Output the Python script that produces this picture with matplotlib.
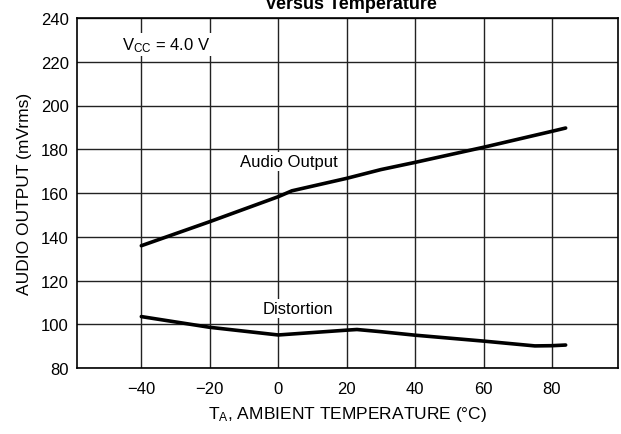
import matplotlib
matplotlib.use("Agg")
import matplotlib.pyplot as plt
from matplotlib import font_manager

names = {f.name for f in font_manager.fontManager.ttflist}
narrow = 'Liberation Sans Narrow' if 'Liberation Sans Narrow' in names else 'Liberation Sans'
plt.rcParams['font.family'] = [narrow, 'DejaVu Sans']
plt.rcParams['mathtext.fontset'] = 'custom'
plt.rcParams['mathtext.rm'] = narrow
plt.rcParams['mathtext.it'] = narrow

# Data
temp_audio = [-40, -20, 0, 4, 20, 30, 40, 60, 80, 84]
audio_output = [135.9, 146.9, 158.3, 161.0, 166.7, 170.7, 174.0, 180.9, 188.2, 189.7]
temp_dist = [-40, -20, 0, 20, 23, 30, 40, 60, 75, 80, 84]
distortion = [103.5, 98.6, 95.1, 97.3, 97.6, 96.6, 95.0, 92.3, 90.1, 90.2, 90.5]
x_ticks = [-40, -20, 0, 20, 40, 60, 80]
x_tick_labels = ['\u221240', '\u221220', '0', '20', '40', '60', '80']
y_ticks = [80, 100, 120, 140, 160, 180, 200, 220, 240]

fig = plt.figure(figsize=(6.21, 4.35), dpi=100)
ax = fig.add_axes([77/621, 1-369/435, (618-77)/621, (369-19)/435])

ax.set_xlim(-58.8, 99.3)
ax.set_ylim(80, 240)
ax.set_xticks(x_ticks)
ax.set_xticklabels(x_tick_labels)
ax.set_yticks(y_ticks)
ax.tick_params(length=0, labelsize=12)
ax.tick_params(axis='x', pad=9)
ax.tick_params(axis='y', pad=6)
ax.grid(True, color='#222222', linewidth=1.0)
ax.set_axisbelow(True)
for s in ax.spines.values():
    s.set_linewidth(1.2)

ax.plot(temp_audio, audio_output, color='black', lw=2.6, solid_capstyle='round', zorder=3)
ax.plot(temp_dist, distortion, color='black', lw=2.6, solid_capstyle='round', zorder=3)

bbox = dict(facecolor='white', edgecolor='none', pad=1.5)
ax.text(3.2, 174.3, 'Audio Output', ha='center', va='center', fontsize=12, bbox=bbox, zorder=4)
ax.text(5.8, 107.4, 'Distortion', ha='center', va='center', fontsize=12, bbox=bbox, zorder=4)
ax.text(-45.6, 228, r'V$_{\mathrm{CC}}$ = 4.0 V', ha='left', va='center', fontsize=12, bbox=bbox, zorder=4)

ax.set_xlabel(r'T$_{\mathrm{A}}$, AMBIENT TEMPERATURE (°C)', fontsize=12.5, labelpad=6)
ax.set_ylabel('AUDIO OUTPUT (mVrms)', fontsize=12.5, labelpad=6)

fig.text(351/621, 1-9/435, 'Versus Temperature', ha='center', va='baseline',
         fontsize=13, fontweight='bold', family=['Liberation Sans', 'DejaVu Sans'])

fig.savefig('out.png', dpi=100)
